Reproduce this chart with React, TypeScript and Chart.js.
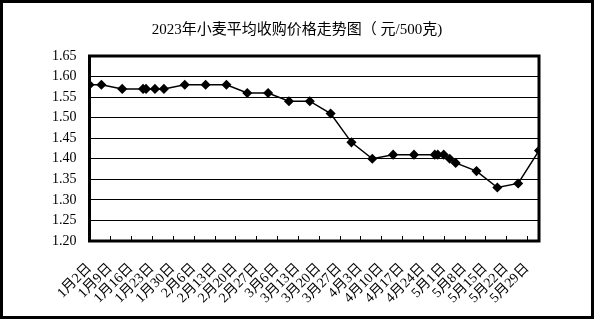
import React, { useEffect, useRef } from "react";
import { Chart, registerables } from "chart.js";

Chart.register(...registerables);

const titleText = "2023年小麦平均收购价格走势图（ 元/500克)";
// day offsets from Jan 2, 2023
const pointDays = [0, 4, 11, 18, 19, 22, 25, 32, 39, 46, 53, 60, 67, 74, 81, 88, 95, 102, 109, 116, 117, 119, 121, 123, 130, 137, 144, 151];
const prices = [1.58, 1.58, 1.57, 1.57, 1.57, 1.57, 1.57, 1.58, 1.58, 1.58, 1.56, 1.56, 1.54, 1.54, 1.51, 1.44, 1.40, 1.41, 1.41, 1.41, 1.41, 1.41, 1.40, 1.39, 1.37, 1.33, 1.34, 1.42];
const tickLabels = ["1月2日", "1月9日", "1月16日", "1月23日", "1月30日", "2月6日", "2月13日", "2月20日", "2月27日", "3月6日", "3月13日", "3月20日", "3月27日", "4月3日", "4月10日", "4月17日", "4月24日", "5月1日", "5月8日", "5月15日", "5月22日", "5月29日"];
const tickDays = tickLabels.map((_, i) => i * 7);
const xMax = 151;
const yMin = 1.2;
const yMax = 1.65;

const FONT = "'Liberation Serif', 'Noto Sans CJK SC', serif";

export default function App() {
  const ref = useRef<HTMLCanvasElement>(null);
  useEffect(() => {
    document.body.style.margin = "0";
    const frame = {
      id: "frame",
      afterDraw(chart: any) {
        const { ctx, chartArea: a, scales } = chart;
        ctx.save();
        ctx.strokeStyle = "#000";
        ctx.lineWidth = 1;
        tickDays.forEach((d) => {
          const x = Math.round(scales.x.getPixelForValue(d)) + 0.5;
          ctx.beginPath();
          ctx.moveTo(x, a.bottom);
          ctx.lineTo(x, a.bottom - 5);
          ctx.stroke();
        });
        ctx.lineWidth = 3;
        ctx.strokeRect(a.left, a.top, a.right - a.left, a.bottom - a.top);
        ctx.fillStyle = "#000";
        ctx.font = `15px ${FONT}`;
        ctx.textAlign = "center";
        ctx.textBaseline = "middle";
        ctx.fillText(titleText, 294, 27);
        ctx.restore();
      },
    };
    const chart = new Chart(ref.current!, {
      type: "line",
      data: {
        datasets: [
          {
            data: pointDays.map((d, i) => ({ x: d, y: prices[i] })),
            borderColor: "#000",
            backgroundColor: "#000",
            borderWidth: 1.5,
            pointStyle: "rectRot",
            pointRadius: 4,
            pointBackgroundColor: "#000",
            pointBorderColor: "#000",
            tension: 0,
          },
        ],
      },
      options: {
        responsive: false,
        animation: false,
        devicePixelRatio: 1,
        layout: { padding: { top: 53, right: 52, left: 0, bottom: 0 } },
        plugins: { legend: { display: false }, tooltip: { enabled: false }, title: { display: false } },
        scales: {
          x: {
            type: "linear",
            min: 0,
            max: xMax,
            afterBuildTicks: (s: any) => {
              s.ticks = tickDays.map((v) => ({ value: v }));
            },
            afterFit: (s: any) => {
              s.height = 75;
            },
            grid: { display: false, drawTicks: false },
            border: { display: false },
            ticks: {
              autoSkip: false,
              maxRotation: 45,
              minRotation: 45,
              padding: 19,
              color: "#000",
              font: { family: FONT, size: 14 },
              callback: (v: any) => {
                const i = tickDays.indexOf(Number(v));
                return i >= 0 ? tickLabels[i] : "";
              },
            },
          },
          y: {
            min: yMin,
            max: yMax,
            afterFit: (s: any) => {
              s.width = 86.5;
            },
            grid: { color: "#000", lineWidth: 1, drawTicks: false },
            border: { display: false },
            ticks: {
              stepSize: 0.05,
              padding: 13,
              color: "#000",
              font: { family: FONT, size: 14 },
              callback: (v: any) => Number(v).toFixed(2),
            },
          },
        },
      },
      plugins: [frame],
    });
    return () => chart.destroy();
  }, []);
  return (
    <div style={{ width: 594, height: 319, boxSizing: "border-box", border: "3px solid #000", background: "#fff" }}>
      <canvas ref={ref} width={588} height={313} style={{ display: "block" }} />
    </div>
  );
}
